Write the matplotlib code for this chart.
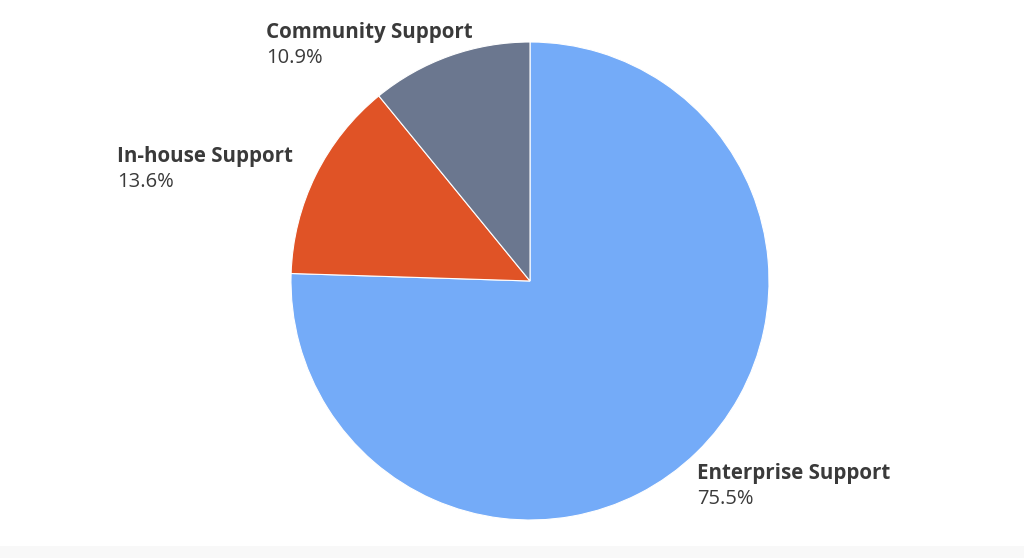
import matplotlib.pyplot as plt
from matplotlib.patches import Rectangle

# Данные
labels = ["Enterprise Support", "In-house Support", "Community Support"]
shares = [75.5, 13.6, 10.9]
colors = ["#74abf8", "#e05326", "#6b778f"]

# положение подписей (пиксели: левый край, базовая линия заголовка)
label_pos = [(697, 479), (117, 162), (266, 38)]

W, H = 1024, 558
fig = plt.figure(figsize=(W / 100, H / 100), dpi=100)
fig.patch.set_facecolor("white")

# светлая полоса внизу
fig.patches.append(Rectangle((0, 0), 1, 12 / H, transform=fig.transFigure,
                             facecolor="#f8f8f8", edgecolor="none", zorder=0))

cx, cy, r = 530, 281, 239
ax = fig.add_axes([(cx - r) / W, (H - cy - r) / H, 2 * r / W, 2 * r / H])
ax.pie(shares, colors=colors, startangle=90, counterclock=False, radius=1,
       wedgeprops=dict(edgecolor="white", linewidth=0.8))
ax.set_xlim(-1, 1)
ax.set_ylim(-1, 1)
ax.set_aspect("equal")
ax.axis("off")

font = ["Open Sans", "DejaVu Sans"]
for name, val, (px, py) in zip(labels, shares, label_pos):
    fig.text(px / W, 1 - py / H, name, fontsize=14.8, fontweight="bold",
             color="#3a3a3a", family=font, va="baseline", ha="left")
    fig.text(px / W, 1 - (py + 25) / H, f"{val}%", fontsize=14.5,
             color="#3a3a3a", family=font, va="baseline", ha="left")

fig.savefig("out.png", dpi=100)
